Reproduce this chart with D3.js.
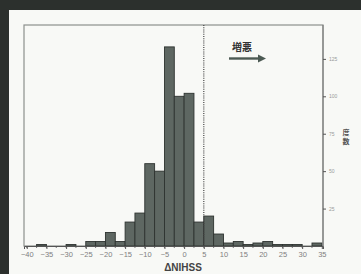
<!DOCTYPE html>
<html><head><meta charset="utf-8">
<script src="https://cdn.jsdelivr.net/npm/d3@7"></script>
<style>
html,body{margin:0;padding:0;background:#2c302d;}
svg{display:block;}
</style></head>
<body>
<script>
const binStarts = [-40,-37.5,-35,-32.5,-30,-27.5,-25,-22.5,-20,-17.5,-15,-12.5,-10,-7.5,-5,-2.5,0,2.5,5,7.5,10,12.5,15,17.5,20,22.5,25,27.5,30,32.5];
const counts =    [0,1,0,0,1,0,3,3,9,3,16,22,55,50,133,100,102,16,20,8,2,3,1,2,3,1,1,1,0,2];
const binWidth = 2.5;
const xTickLabels = [-40,-35,-30,-25,-20,-15,-10,-5,0,5,10,15,20,25,30,35];
const yTickLabels = [25,50,75,100,125];
const yTitleChars = ["度","数"];
const threshold = 5;

const W = 361, H = 274;
const svg = d3.select("body").append("svg").attr("width", W).attr("height", H);

// slide panel
svg.append("rect").attr("x",0).attr("y",0).attr("width",W).attr("height",H).attr("fill","#2c302d");
svg.append("rect").attr("x",9).attr("y",10).attr("width",W-9).attr("height",H-10).attr("fill","#f8f9f6");

const x = d3.scaleLinear().domain([-40.7, 35.3]).range([24, 323]);
const y = d3.scaleLinear().domain([0, 100]).range([246, 96.3]);
const frameTop = 25, frameBottom = 246;

// frame
svg.append("rect").attr("x",x.range()[0]).attr("y",frameTop)
  .attr("width",x.range()[1]-x.range()[0]).attr("height",frameBottom-frameTop)
  .attr("fill","none").attr("stroke","#8d908d").attr("stroke-width",1.2);

// bars
const data = binStarts.map((b,i)=>({b, c: counts[i]})).filter(d=>d.c>0);
svg.append("g").selectAll("rect").data(data).join("rect")
  .attr("x", d => x(d.b))
  .attr("width", d => x(d.b+binWidth) - x(d.b))
  .attr("y", d => y(d.c))
  .attr("height", d => y(0) - y(d.c))
  .attr("fill", "#5e6762").attr("stroke", "#2e3330").attr("stroke-width", 0.9);

// dotted threshold line
svg.append("line").attr("x1",x(threshold)).attr("x2",x(threshold))
  .attr("y1",frameTop).attr("y2",frameBottom)
  .attr("stroke","#444").attr("stroke-width",1.2).attr("stroke-dasharray","1,1.2");

// x axis
const xAxis = d3.axisBottom(x).tickValues(xTickLabels).tickSize(3).tickFormat(d3.format("d"));
const gx = svg.append("g").attr("transform",`translate(0,${frameBottom})`).call(xAxis);
gx.select(".domain").attr("stroke","#555");
gx.selectAll(".tick line").attr("stroke","#555");
gx.selectAll(".tick text").attr("font-family","Liberation Sans, Arial, sans-serif")
  .attr("font-size",7.5).attr("fill","#808080").attr("dy","0.6em");
// minor ticks at bin edges
svg.append("g").selectAll("line").data(binStarts).join("line")
  .attr("x1", d=>x(d)).attr("x2", d=>x(d)).attr("y1", frameBottom).attr("y2", frameBottom+2)
  .attr("stroke","#555").attr("stroke-width",0.8);

// right y axis
const yAxis = d3.axisRight(y).tickValues(yTickLabels).tickSize(3).tickFormat(d3.format("d"));
const gy = svg.append("g").attr("transform",`translate(${x.range()[1]},0)`).call(yAxis);
gy.select(".domain").attr("stroke","#777").attr("d",`M0,${frameTop}V${frameBottom}`);
gy.selectAll(".tick line").attr("stroke","#555");
gy.selectAll(".tick text").attr("font-family","Liberation Sans, Arial, sans-serif")
  .attr("font-size",5).attr("fill","#999");

// y label (vertical, stacked characters)
svg.append("g").selectAll("text").data(yTitleChars).join("text")
  .attr("x",346).attr("y",(d,i)=>135+i*9)
  .attr("font-family","Noto Sans CJK JP, sans-serif").attr("font-size",7).attr("font-weight","bold")
  .attr("fill","#555").attr("text-anchor","middle").text(d=>d);

// x label
svg.append("text").attr("x",183).attr("y",271).attr("text-anchor","middle")
  .attr("font-family","Liberation Sans, Arial, sans-serif").attr("font-size",10).attr("font-weight","bold")
  .attr("fill","#444").text("ΔNIHSS");

// annotation
svg.append("text").attr("x",242).attr("y",51).attr("text-anchor","middle")
  .attr("font-family","Noto Sans CJK JP, sans-serif").attr("font-size",10).attr("font-weight","bold")
  .attr("fill","#333").text("増悪");
svg.append("line").attr("x1",229).attr("x2",259).attr("y1",58.5).attr("y2",58.5)
  .attr("stroke","#4c5a53").attr("stroke-width",2.4);
svg.append("path").attr("d","M258,54.5 L266,58.5 L258,62.5 Z").attr("fill","#4c5a53");
</script>
</body></html>
